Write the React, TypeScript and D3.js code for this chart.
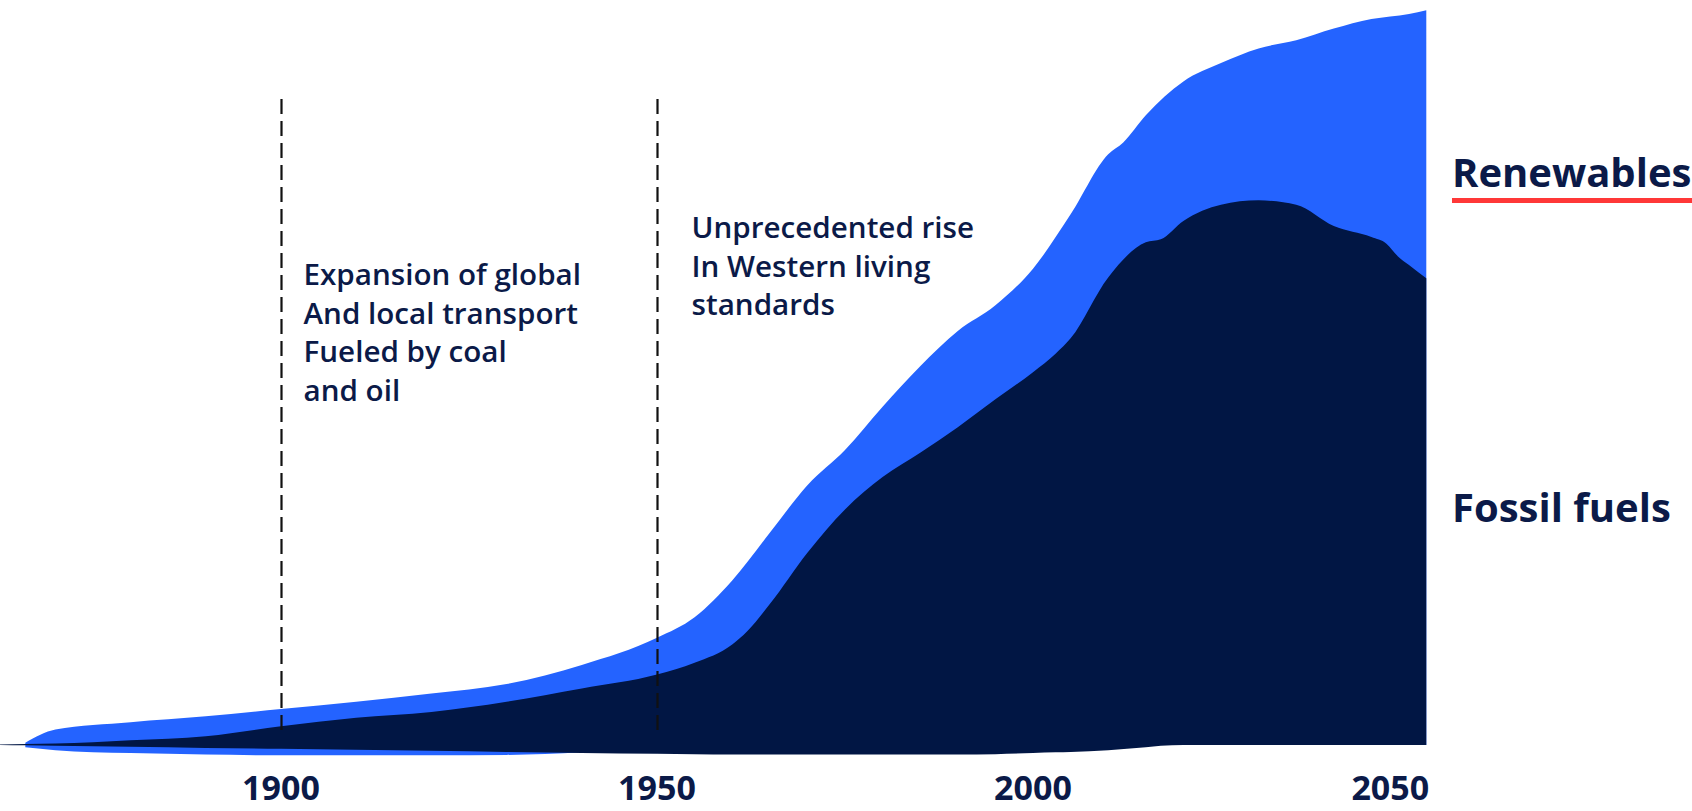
import React from "react";
import * as d3 from "d3";

// ---- Data ----
const renewYears = [1866, 1870, 1880, 1890, 1900, 1910, 1920, 1930, 1940, 1950, 1955, 1960, 1965, 1970, 1975, 1980, 1985, 1990, 1995, 2000, 2005, 2010, 2012, 2015, 2020, 2025, 2030, 2035, 2040, 2045, 2050, 2052.3];
const renewUpper = [0.3, 2.1, 3.1, 3.9, 4.9, 5.9, 7.0, 8.3, 10.9, 14.6, 17.4, 22.4, 28.9, 35.4, 40.2, 46.1, 51.6, 56.4, 59.9, 64.9, 72.3, 80.5, 82.1, 85.8, 90.4, 92.9, 94.9, 96.0, 97.6, 98.9, 99.6, 100.1];
const renewLower = [-0.3, -0.7, -1.1, -1.3, -1.4, -1.4, -1.4, -1.35, -1.0, 0, 0, 0, 0, 0, 0, 0, 0, 0, 0, 0, 0, 0, 0, 0, 0, 0, 0, 0, 0, 0, 0, 0];

const fossilYears = [1862.6, 1866, 1870, 1880, 1890, 1900, 1910, 1920, 1930, 1940, 1950, 1955, 1960, 1962, 1965, 1970, 1975, 1980, 1985, 1990, 1995, 2000, 2003, 2005, 2010, 2015, 2017, 2020, 2025, 2030, 2035, 2040, 2045, 2047, 2048.5, 2050, 2052.3];
const fossilUpper = [0.05, 0.15, 0.2, 0.64, 1.2, 2.55, 3.7, 4.5, 5.9, 7.7, 9.6, 11.2, 13.7, 15.5, 19.2, 26.2, 32.1, 36.5, 39.8, 43.3, 47.1, 50.8, 53.3, 55.4, 63.7, 68.5, 68.9, 71.4, 73.6, 74.2, 73.6, 70.7, 69.2, 68.3, 66.6, 65.4, 63.6];
const fossilLower = [0, -0.05, -0.1, -0.25, -0.4, -0.5, -0.65, -0.8, -0.95, -1.1, -1.2, -1.25, -1.3, -1.3, -1.3, -1.3, -1.3, -1.3, -1.3, -1.3, -1.25, -1.1, -1.0, -0.95, -0.7, -0.3, -0.1, 0, 0, 0, 0, 0, 0, 0, 0, 0, 0];

const tickYears = [1900, 1950, 2000, 2050];
const markerYears = [1900, 1950];

const annotations = [
  { year: 1903, lines: ["Expansion of global", "And local transport", "Fueled by coal", "and oil"], top: 285 },
  { year: 1954.6, lines: ["Unprecedented rise", "In Western living", "standards"], top: 238 },
];

const seriesLabels = [
  { name: "Renewables", underline: true, y: 187 },
  { name: "Fossil fuels", underline: false, y: 522 },
];

const W = 1692;
const H = 811;
const BLUE = "#2463FF";
const NAVY = "#011644";
const TEXT = "#0B1A48";

export default function App() {
  const x = d3.scaleLinear().domain([1900, 2000]).range([281, 1033]);
  const y = d3.scaleLinear().domain([0, 100]).range([745, 11]);

  const renew = renewYears.map((yr, i) => ({ yr, lo: renewLower[i], hi: renewUpper[i] }));
  const fossil = fossilYears.map((yr, i) => ({ yr, lo: fossilLower[i], hi: fossilUpper[i] }));

  const area = d3
    .area<{ yr: number; lo: number; hi: number }>()
    .x((d) => x(d.yr))
    .y0((d) => y(d.lo))
    .y1((d) => y(d.hi))
    .curve(d3.curveMonotoneX);

  const font = "'Open Sans', 'Noto Sans', sans-serif";
  const rightEdge = x(renewYears[renewYears.length - 1]);

  return (
    <svg
      width={W}
      height={H}
      style={{ position: "absolute", left: 0, top: 0, background: "#fff", display: "block" }}
    >
      <path d={area(renew) || ""} fill={BLUE} />
      <path d={area(fossil) || ""} fill={NAVY} />

      {markerYears.map((m) => (
        <line
          key={m}
          x1={x(m) + 0.5}
          x2={x(m) + 0.5}
          y1={99}
          y2={736}
          stroke="#111"
          strokeWidth={2.2}
          strokeDasharray="15 7"
        />
      ))}

      {annotations.map((a, i) => (
        <text key={i} fill={TEXT} fontFamily={font} fontWeight={600} fontSize={29.6}>
          {a.lines.map((l, j) => (
            <tspan key={j} x={x(a.year)} y={a.top + j * 38.6}>
              {l}
            </tspan>
          ))}
        </text>
      ))}

      {seriesLabels.map((s) => (
        <g key={s.name}>
          <text x={1452} y={s.y} fill={TEXT} fontFamily={font} fontWeight={700} fontSize={40}>
            {s.name}
          </text>
          {s.underline && <rect x={1452} y={198} width={W - 1452} height={5} fill="#FF3838" />}
        </g>
      ))}

      {tickYears.map((t) => {
        const cx = Math.min(x(t), rightEdge - 36);
        return (
          <text
            key={t}
            x={cx}
            y={800}
            textAnchor="middle"
            fill={TEXT}
            fontFamily={font}
            fontWeight={700}
            fontSize={34}
          >
            {t}
          </text>
        );
      })}
    </svg>
  );
}
